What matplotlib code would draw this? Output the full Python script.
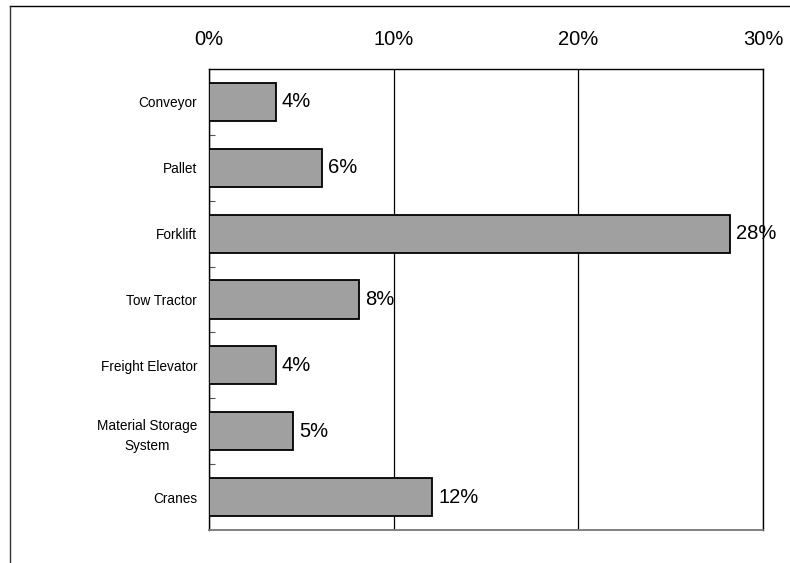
import matplotlib.pyplot as plt
from matplotlib.lines import Line2D
from matplotlib.ticker import FixedLocator, PercentFormatter

plt.rcParams['font.family'] = ['Liberation Sans', 'DejaVu Sans']

# share of incidents by equipment type (%)
categories = ['Conveyor', 'Pallet', 'Forklift', 'Tow Tractor', 'Freight Elevator',
              'Material Storage\nSystem', 'Cranes']
shares = [3.6, 6.1, 28.2, 8.1, 3.6, 4.55, 12.1]
x_ticks = [0, 10, 20, 30]

fig = plt.figure(figsize=(7.9, 5.63), dpi=100)
ax = fig.add_axes([0.2646, 0.0586, 0.7012, 0.8188])

pos = list(range(len(categories)))
ax.barh(pos, shares, height=0.58, color='#a0a0a0', edgecolor='black', linewidth=1.3, zorder=3)

# value labels sit under the spines, so the right edge cuts through "28%"
for y, v in zip(pos, shares):
    ax.text(v + 0.35, y, f'{v:.0f}%', va='center', ha='left', fontsize=14.5,
            zorder=2, clip_on=False)

ax.set_xlim(0, 30)
ax.set_ylim(len(categories) - 0.5, -0.5)

# percent axis along the top, no tick marks
ax.xaxis.tick_top()
ax.set_xticks(x_ticks)
ax.xaxis.set_major_formatter(PercentFormatter(decimals=0))
ax.tick_params(axis='x', length=0, pad=14.5, labelsize=14.5)
ax.grid(axis='x', color='black', linewidth=0.9, zorder=1)

# category labels, small inward ticks between categories
ax.set_yticks(pos)
ax.set_yticklabels(categories, fontsize=9.8, multialignment='center', linespacing=1.6)
ax.tick_params(axis='y', which='major', length=0, pad=8.5)
ax.yaxis.set_minor_locator(FixedLocator([p + 0.5 for p in pos[:-1]]))
ax.tick_params(axis='y', which='minor', direction='in', length=4.5, width=0.8, color='#555555')

for side in ['left', 'right', 'top']:
    ax.spines[side].set_linewidth(1.0)
    ax.spines[side].set_color('black')
ax.spines['bottom'].set_linewidth(1.3)
ax.spines['bottom'].set_color('#777777')

# frame lines along the top and left edges of the figure
fig.add_artist(Line2D([10 / 790, 1.0], [1 - 6 / 563, 1 - 6 / 563],
                      transform=fig.transFigure, color='black', linewidth=1.0))
fig.add_artist(Line2D([10 / 790, 10 / 790], [0.0, 1 - 6 / 563],
                      transform=fig.transFigure, color='#333333', linewidth=1.0))

fig.savefig('out.png', dpi=100)
